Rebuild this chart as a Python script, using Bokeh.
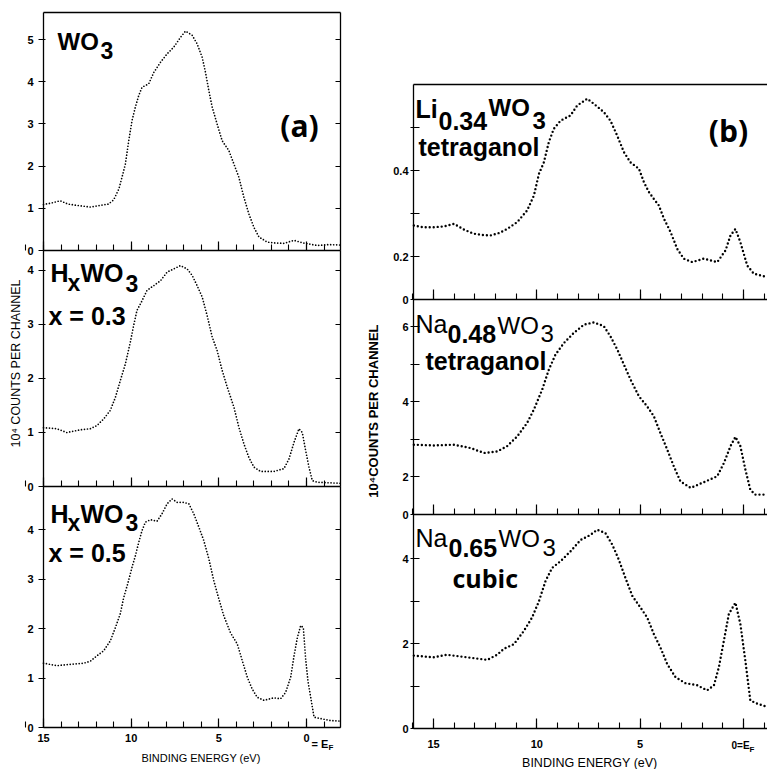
from bokeh.plotting import figure
from bokeh.models import Range1d, LinearAxis, FixedTicker, Label, Grid
from bokeh.embed import file_html
from bokeh.resources import INLINE
import math

# ---------------- data (binding energy in eV, 10^4 counts per channel) ----------------
wo3_E = [15.0, 14.6, 14.05, 13.6, 13.1, 12.7, 12.33, 11.76, 11.3, 11.0, 10.7, 10.52, 10.33, 10.14, 9.95,
         9.76, 9.57, 9.38, 9.0, 8.71, 8.33, 7.95, 7.57, 7.19, 6.9, 6.52, 6.24, 5.95, 5.76, 5.57,
         5.38, 5.1, 4.81, 4.43, 4.14, 3.86, 3.57, 3.29, 3.0, 2.71, 2.24, 1.8, 1.29, 0.71, 0.2,
         -0.62, -1.3, -1.94]
wo3_I = [1.09, 1.12, 1.18, 1.1, 1.07, 1.05, 1.03, 1.07, 1.1, 1.2, 1.46, 1.74, 2.05, 2.6, 3.08,
         3.4, 3.67, 3.87, 3.95, 4.22, 4.46, 4.66, 4.82, 5.05, 5.2, 5.1, 4.9, 4.58, 4.22, 3.79,
         3.4, 3.0, 2.6, 2.37, 2.05, 1.74, 1.26, 0.87, 0.55, 0.32, 0.2, 0.18, 0.17, 0.24, 0.18,
         0.12, 0.14, 0.13]

hx03_E = [15.0, 14.24, 13.67, 12.9, 12.33, 11.95, 11.57, 11.19, 10.9, 10.62, 10.33, 10.05, 9.86, 9.67, 9.38,
          9.1, 8.71, 8.33, 7.95, 7.57, 7.19, 6.81, 6.52, 6.24, 5.95, 5.67, 5.38, 5.1, 4.81, 4.52,
          4.14, 3.86, 3.57, 3.29, 3.0, 2.62, 1.86, 1.29, 1.0, 0.71, 0.43, 0.24, 0.05, -0.14, -0.33,
          -0.6, -1.2, -1.94]
hx03_I = [1.09, 1.07, 1.0, 1.05, 1.07, 1.13, 1.25, 1.41, 1.65, 1.96, 2.27, 2.67, 2.98, 3.26, 3.44,
          3.63, 3.72, 3.81, 3.97, 4.03, 4.09, 4.03, 3.91, 3.72, 3.51, 3.17, 2.77, 2.52, 2.15, 1.84,
          1.47, 1.1, 0.79, 0.54, 0.36, 0.28, 0.28, 0.33, 0.51, 0.82, 1.07, 1.0, 0.67, 0.36, 0.11,
          0.08, 0.07, 0.06]

hx05_E = [15.0, 14.24, 13.67, 12.71, 12.33, 11.95, 11.57, 11.19, 10.9, 10.62, 10.43, 10.2, 9.95, 9.76, 9.57,
          9.38, 9.19, 8.9, 8.52, 8.24, 7.95, 7.67, 7.38, 7.0, 6.71, 6.43, 6.14, 5.86, 5.57, 5.29,
          5.0, 4.71, 4.33, 3.95, 3.67, 3.38, 3.1, 2.81, 2.43, 1.86, 1.48, 1.19, 0.9, 0.71, 0.52,
          0.33, 0.18, 0.05, -0.09, -0.24, -0.43, -0.81, -1.38, -1.94]
hx05_I = [1.3, 1.25, 1.27, 1.3, 1.34, 1.45, 1.55, 1.75, 2.02, 2.3, 2.62, 2.9, 3.24, 3.47, 3.74,
          3.98, 4.15, 4.2, 4.17, 4.32, 4.52, 4.62, 4.55, 4.55, 4.52, 4.32, 4.05, 3.78, 3.41, 2.97,
          2.6, 2.25, 1.91, 1.69, 1.36, 1.02, 0.78, 0.61, 0.55, 0.6, 0.58, 0.71, 1.02, 1.45, 1.82,
          2.06, 2.02, 1.39, 0.92, 0.61, 0.21, 0.18, 0.14, 0.13]

li34_E = [15.95, 15.5, 15.0, 14.5, 14.01, 13.5, 13.05, 12.6, 12.24, 11.8, 11.44, 10.95, 10.47, 10.14, 9.9,
          9.66, 9.42, 9.18, 8.85, 8.37, 8.05, 7.56, 7.24, 6.76, 6.44, 6.11, 5.79, 5.47, 5.06, 4.82,
          4.58, 4.34, 4.1, 3.85, 3.53, 3.21, 2.89, 2.48, 1.92, 1.27, 0.87, 0.63, 0.39, 0.15, -0.18,
          -0.5, -1.14]
li34_I = [0.272, 0.268, 0.268, 0.27, 0.276, 0.262, 0.253, 0.25, 0.249, 0.255, 0.264, 0.28, 0.307, 0.342, 0.392,
          0.419, 0.466, 0.497, 0.516, 0.528, 0.551, 0.567, 0.555, 0.536, 0.516, 0.481, 0.443, 0.419, 0.404, 0.373,
          0.35, 0.334, 0.319, 0.288, 0.257, 0.218, 0.195, 0.187, 0.195, 0.187, 0.214, 0.249, 0.264, 0.233, 0.179,
          0.16, 0.152]

na48_E = [15.95, 15.0, 14.01, 13.2, 12.56, 11.92, 11.44, 10.95, 10.47, 10.14, 9.74, 9.42, 9.1, 8.69, 8.21,
          7.72, 7.24, 6.76, 6.44, 6.11, 5.79, 5.47, 5.06, 4.66, 4.34, 4.02, 3.69, 3.37, 3.05, 2.56,
          1.92, 1.27, 0.95, 0.63, 0.39, 0.15, -0.09, -0.33, -0.57, -1.14]
na48_I = [2.86, 2.84, 2.86, 2.77, 2.64, 2.68, 2.82, 3.08, 3.44, 3.8, 4.33, 4.86, 5.26, 5.57, 5.84,
          6.06, 6.12, 6.02, 5.75, 5.4, 5.0, 4.6, 4.15, 3.88, 3.62, 3.17, 2.73, 2.28, 1.88, 1.71,
          1.86, 2.02, 2.37, 2.82, 3.07, 2.82, 2.2, 1.66, 1.53, 1.53]

na65_E = [15.95, 15.0, 14.35, 13.7, 13.05, 12.4, 11.92, 11.6, 11.11, 10.63, 10.23, 9.9, 9.58, 9.26, 8.85,
          8.37, 7.88, 7.4, 7.08, 6.68, 6.35, 6.03, 5.71, 5.38, 4.98, 4.66, 4.34, 4.02, 3.69, 3.29,
          2.81, 2.24, 1.76, 1.43, 1.19, 0.95, 0.71, 0.39, 0.15, -0.09, -0.33, -0.65, -1.14]
na65_I = [1.72, 1.68, 1.74, 1.7, 1.66, 1.62, 1.74, 1.88, 1.99, 2.3, 2.62, 3.0, 3.48, 3.79, 3.95,
          4.18, 4.45, 4.57, 4.69, 4.61, 4.34, 3.98, 3.55, 3.13, 2.85, 2.62, 2.23, 1.91, 1.52, 1.21,
          1.07, 1.02, 0.9, 1.02, 1.45, 2.07, 2.7, 2.97, 2.46, 1.6, 0.66, 0.59, 0.51]

X_MAJOR = [15, 10, 5, 0]
X_MINOR = list(range(-1, 17))
A1_TICKS = [0, 1, 2, 3, 4, 5]
A2_TICKS = [0, 1, 2, 3, 4]
A3_TICKS = [0, 1, 2, 3, 4]
B1_TICKS = [0.1, 0.2, 0.3, 0.4, 0.5]
B1_LABELS = {0.1: "0", 0.3: "", 0.5: ""}
B2_TICKS = [1, 2, 3, 4, 5, 6]
B2_LABELS = {1: "0", 3: "", 5: ""}
B3_TICKS = [0, 1, 2, 3, 4]
B3_LABELS = {1: "", 3: ""}

YTITLE_A = "10\u2074 COUNTS   PER   CHANNEL"
YTITLE_B = "10\u2074COUNTS  PER  CHANNEL"
XTITLE = "BINDING  ENERGY (eV)"

FONT = "Liberation Sans"

# ---------------- canvas / layout (pixel coordinates of the page) ----------------
W, H = 767, 769
p = figure(width=W, height=H, x_range=Range1d(0, W), y_range=Range1d(H, 0),
           x_axis_location=None, y_axis_location=None, toolbar_location=None,
           output_backend="svg", min_border=0, min_border_left=0, min_border_right=0,
           min_border_top=0, min_border_bottom=0)
p.outline_line_color = None
p.background_fill_color = "white"
p.border_fill_color = "white"
p.center = [r for r in p.center if not isinstance(r, Grid)]


def energy_range(name, px15, px0, e_lo, e_hi):
    k = (px0 - px15) / 15.0            # pixels per eV
    p.extra_x_ranges[name] = Range1d(15 + px15 / k, -(W - px0) / k)
    return (e_lo, e_hi)


def band(name, T, B, vb, vt):
    s = (vt - vb) / (B - T)
    p.extra_y_ranges[name] = Range1d(vb - (H - B) * s, vt + T * s)


def txt(x, y, s, size, font=FONT, style="bold", align="left", baseline="alphabetic", angle=0.0):
    p.add_layout(Label(x=x, y=y, text=s, text_font=font, text_font_size=f"{size}px",
                       text_font_style=style, text_align=align, text_baseline=baseline,
                       angle=angle, text_color="black"))


def yaxis(rng, ticks, overrides, loc, side, bounds, tick_out, tick_in, standoff, labels=True):
    ax = LinearAxis(y_range_name=rng, fixed_location=loc, bounds=bounds,
                    ticker=FixedTicker(ticks=ticks, minor_ticks=[]),
                    axis_line_color="black", axis_line_width=1.3,
                    major_tick_out=tick_out, major_tick_in=tick_in,
                    minor_tick_out=0, minor_tick_in=0, major_tick_line_width=1.2,
                    major_label_standoff=standoff, major_label_text_font=FONT,
                    major_label_text_font_size="11px", major_label_text_font_style="bold",
                    major_label_text_color="black")
    if overrides:
        ax.major_label_overrides = overrides
    if not labels:
        ax.major_label_text_alpha = 0
    p.add_layout(ax, side)


def xaxis(rng, loc, side, bounds, ticks, minor, maj_in, min_in, labels, overrides, standoff):
    ax = LinearAxis(x_range_name=rng, fixed_location=loc, bounds=bounds,
                    ticker=FixedTicker(ticks=ticks, minor_ticks=minor),
                    axis_line_color="black", axis_line_width=1.3,
                    major_tick_in=maj_in, major_tick_out=0, minor_tick_in=min_in, minor_tick_out=0,
                    major_tick_line_width=1.2, minor_tick_line_width=1.1,
                    major_label_standoff=standoff, major_label_text_font=FONT,
                    major_label_text_font_size="11px", major_label_text_font_style="bold",
                    major_label_text_color="black")
    if overrides:
        ax.major_label_overrides = overrides
    if not labels:
        ax.major_label_text_alpha = 0
    p.add_layout(ax, side)


def curve(xr, yr, E, I, width, dash):
    p.line(x=E, y=I, x_range_name=xr, y_range_name=yr, line_color="black",
           line_width=width, line_dash=dash, line_cap="round")


# ---------------- panel (a) ----------------
A_L, A_R, A_T, A_B = 43, 340, 12, 727
A_S1, A_S2 = 250, 486
a_bounds = energy_range("eA", 43, 306, -1.94, 15.0)
band("a1", A_T, A_S1, 0, 5.64)
band("a2", A_S1, A_S2, 0, 4.37)
band("a3", A_S2, A_B, 0, 4.87)

curve("eA", "a1", wo3_E, wo3_I, 1.7, "0 3")
curve("eA", "a2", hx03_E, hx03_I, 1.7, "0 3")
curve("eA", "a3", hx05_E, hx05_I, 1.7, "0 3")

for nm, tk, vt in (("a1", A1_TICKS, 5.64), ("a2", A2_TICKS, 4.37), ("a3", A3_TICKS, 4.87)):
    yaxis(nm, tk, None, A_L, "left", (0, vt), 5, 2, 5)
    yaxis(nm, tk, None, A_R, "right", (0, vt), 0, 5, 2, labels=False)

xaxis("eA", A_T, "above", a_bounds, [], [], 0, 0, False, None, 5)
xaxis("eA", A_S1, "below", a_bounds, X_MAJOR, X_MINOR, 9, 6, False, None, 5)
xaxis("eA", A_S2, "below", a_bounds, X_MAJOR, X_MINOR, 9, 6, False, None, 5)
xaxis("eA", A_B, "below", a_bounds, X_MAJOR, X_MINOR, 9, 6, True, None, 6)

txt(311, 743, "= E", 11)
txt(328, 747, "F", 8)
txt(202, 757, XTITLE, 11, style="normal", align="center", baseline="middle")
txt(15, 356, YTITLE_A, 12.5, style="normal", align="center", baseline="middle", angle=math.pi / 2)

txt(57, 41, "WO", 24)
txt(100, 50, "3", 23)
txt(299, 125, "(a)", 30, font="Open Sans", align="center", baseline="middle")

txt(50, 272, "H", 25)
txt(67, 282, "x", 23)
txt(80, 272, "WO", 25)
txt(125, 283, "3", 23)
txt(48, 315, "x = 0.3", 25)

txt(50, 513, "H", 25)
txt(67, 522, "x", 23)
txt(80, 513, "WO", 25)
txt(125, 522, "3", 23)
txt(48, 552, "x = 0.5", 25)

# ---------------- panel (b) ----------------
B_L, B_R, B_T, B_B = 413, 767, 84, 728
B_S1, B_S2 = 299, 514
b_bounds = energy_range("eB", 433, 743, -1.16, 15.97)
band("b1", B_T, B_S1, 0.1, 0.6)
band("b2", B_S1, B_S2, 1.0, 6.73)
band("b3", B_S2, B_B, 0, 5.05)

curve("eB", "b1", li34_E, li34_I, 2.4, "0 4")
curve("eB", "b2", na48_E, na48_I, 2.4, "0 4")
curve("eB", "b3", na65_E, na65_I, 2.4, "0 4")

yaxis("b1", B1_TICKS, B1_LABELS, B_L, "left", (0.1, 0.6), 3, 6, 2)
yaxis("b2", B2_TICKS, B2_LABELS, B_L, "left", (1.0, 6.73), 3, 6, 2)
yaxis("b3", B3_TICKS, B3_LABELS, B_L, "left", (0, 5.05), 3, 6, 2)

xaxis("eB", B_T, "above", b_bounds, [], [], 0, 0, False, None, 5)
xaxis("eB", B_S1, "below", b_bounds, X_MAJOR, X_MINOR, 10, 6, False, None, 5)
xaxis("eB", B_S2, "below", b_bounds, X_MAJOR, X_MINOR, 10, 6, False, None, 5)
xaxis("eB", B_B, "below", b_bounds, X_MAJOR, X_MINOR, 10, 6, True, {0: ""}, 11)

txt(731, 745, "0=E", 10)
txt(749, 749, "F", 8)
txt(591, 762, XTITLE, 12.5, style="normal", align="center", baseline="middle")
txt(373, 407, YTITLE_B, 13, align="center", baseline="middle", angle=math.pi / 2)

txt(415, 108, "Li", 25)
txt(438, 120, "0.34", 25)
txt(488, 107, "WO", 24)
txt(532, 120, "3", 24)
txt(418, 146, "tetraganol", 25)
txt(728, 130, "(b)", 30, font="Open Sans", align="center", baseline="middle")

txt(415, 323, "Na", 25, style="normal")
txt(447, 333, "0.48", 25)
txt(497, 325, "WO", 24, style="normal")
txt(540, 333, "3", 24, style="normal")
txt(425, 360, "tetraganol", 25)

txt(415, 537, "Na", 25, style="normal")
txt(448, 547, "0.65", 25)
txt(498, 538, "WO", 24, style="normal")
txt(542, 547, "3", 24, style="normal")
txt(452, 577, "cubic", 25, font="Open Sans")

open("out.html", "w").write(file_html(p, INLINE))
